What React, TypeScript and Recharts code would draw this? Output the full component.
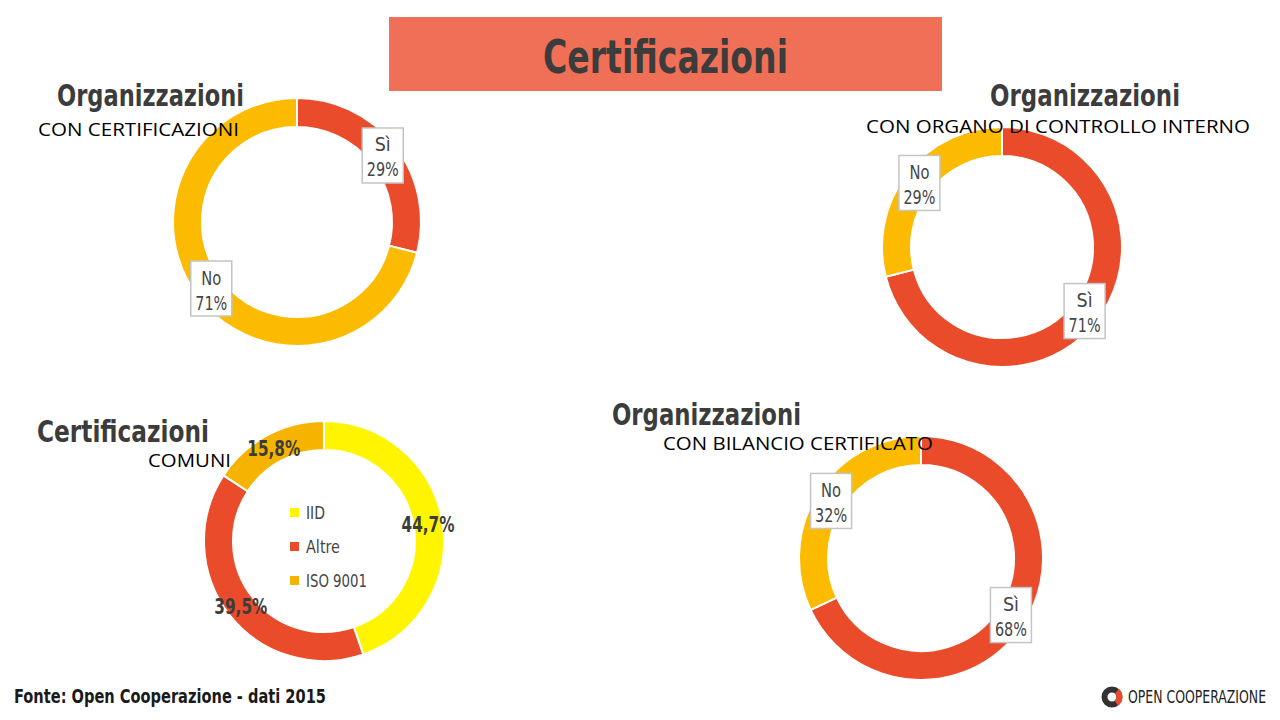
import React, { useLayoutEffect, useRef, useState } from 'react';
import { PieChart, Pie, Cell } from 'recharts';

const RED = '#E94B2B';
const GOLD = '#FDBB00';
const LEMON = '#FFF500';
const AMBER = '#F6B400';
const DARK = '#3C3C3C';
const LABEL_GREY = '#454545';

// Organizzazioni con certificazioni
const orgCertNames = ['Sì', 'No'];
const orgCertValues = [29, 71];
const orgCertColors = [RED, GOLD];

// Organizzazioni con organo di controllo interno
const controlloNames = ['Sì', 'No'];
const controlloValues = [71, 29];
const controlloColors = [RED, GOLD];

// Certificazioni comuni
const comuniNames = ['IID', 'Altre', 'ISO 9001'];
const comuniValues = [44.7, 39.5, 15.8];
const comuniColors = [LEMON, RED, AMBER];

// Organizzazioni con bilancio certificato
const bilancioNames = ['Sì', 'No'];
const bilancioValues = [68, 32];
const bilancioColors = [RED, GOLD];

const build = (names: string[], values: number[]) =>
  names.map((n, i) => ({ name: n, value: values[i] }));

const orgCertData = build(orgCertNames, orgCertValues);
const controlloData = build(controlloNames, controlloValues);
const comuniData = build(comuniNames, comuniValues);
const bilancioData = build(bilancioNames, bilancioValues);

const RAD = Math.PI / 180;
const COND = '"Liberation Sans Narrow", "DejaVu Sans Condensed", Roboto, sans-serif';
const SANS = '"Open Sans", "Noto Sans", sans-serif';

const nameWidth: Record<string, number> = { 'Sì': 16, 'No': 20 };

const boxLabel = (props: any) => {
  const { cx, cy, midAngle, innerRadius, outerRadius, name, value } = props;
  const r = (innerRadius + outerRadius) / 2 - 1;
  const x = cx + r * Math.cos(-midAngle * RAD);
  const y = cy + r * Math.sin(-midAngle * RAD);
  return (
    <g>
      <rect x={x - 20.5} y={y - 27.5} width={41} height={55} fill="#fff" stroke="#C4C4C4" strokeWidth={1.5} />
      <text x={x} y={y - 4} textAnchor="middle" fontFamily={COND} fontSize={19} fill={LABEL_GREY}
        textLength={nameWidth[name] || 18} lengthAdjust="spacingAndGlyphs">{name}</text>
      <text x={x} y={y + 21} textAnchor="middle" fontFamily={COND} fontSize={19} fill={LABEL_GREY}
        textLength={32} lengthAdjust="spacingAndGlyphs">{`${value}%`}</text>
    </g>
  );
};

const pctLabel = (props: any) => {
  const { cx, cy, midAngle, innerRadius, outerRadius, value } = props;
  const r = (innerRadius + outerRadius) / 2;
  const x = cx + r * Math.cos(-midAngle * RAD);
  const y = cy + r * Math.sin(-midAngle * RAD);
  return (
    <text x={x} y={y + 8} textAnchor="middle" fontFamily={COND} fontWeight={700} fontSize={21} fill={DARK}
      textLength={53} lengthAdjust="spacingAndGlyphs">{`${Number(value).toFixed(1).replace('.', ',')}%`}</text>
  );
};

type TProps = { x: number; y: number; w: number; size: number; bold?: boolean; fill?: string; family?: string; children: React.ReactNode };
const T = ({ x, y, w, size, bold, fill, family, children }: TProps) => (
  <text x={x} y={y} fontSize={size} fontWeight={bold ? 700 : 400} fill={fill || '#000'}
    fontFamily={family || COND} textLength={w} lengthAdjust="spacingAndGlyphs">{children}</text>
);

// Text squeezed to an exact width by measuring its natural length
const ScaledText = ({ x, y, w, size, bold, fill, family, children }: TProps) => {
  const ref = useRef<SVGTextElement>(null);
  const [s, setS] = useState(0.8);
  useLayoutEffect(() => {
    if (ref.current) {
      const n = ref.current.getComputedTextLength();
      if (n > 0) setS(w / n);
    }
  }, [w, children]);
  return (
    <text ref={ref} x={0} y={0} transform={`translate(${x},${y}) scale(${s},1)`} fontSize={size}
      fontWeight={bold ? 700 : 400} fill={fill || '#000'} fontFamily={family || COND}>{children}</text>
  );
};

export default function App() {
  const lc = { x: 1112, y: 697, r: 7.5 };
  const a1 = -50 * RAD;
  const a2 = 55 * RAD;
  return (
    <div style={{ position: 'absolute', left: 0, top: 0, width: 1280, height: 720, background: '#fff', overflow: 'hidden' }}>
      <svg width={1280} height={720} style={{ position: 'absolute', left: 0, top: 0 }}>
        <rect x={389} y={17} width={553} height={74} fill="#F07057" />
        <T x={543} y={73} w={245} size={47} bold fill={DARK}>Certificazioni</T>
      </svg>
      <div style={{ position: 'absolute', left: 0, top: 0 }}>
        <PieChart width={1280} height={720} margin={{ top: 0, right: 0, bottom: 0, left: 0 }}>
          <Pie data={orgCertData} dataKey="value" nameKey="name" cx={297} cy={222} innerRadius={95} outerRadius={124}
            startAngle={90} endAngle={-270} isAnimationActive={false} label={boxLabel} labelLine={false} stroke="#fff" strokeWidth={2}>
            {orgCertData.map((d, i) => <Cell key={d.name} fill={orgCertColors[i]} />)}
          </Pie>
          <Pie data={controlloData} dataKey="value" nameKey="name" cx={1002} cy={247} innerRadius={91} outerRadius={120}
            startAngle={90} endAngle={-270} isAnimationActive={false} label={boxLabel} labelLine={false} stroke="#fff" strokeWidth={2}>
            {controlloData.map((d, i) => <Cell key={d.name} fill={controlloColors[i]} />)}
          </Pie>
          <Pie data={comuniData} dataKey="value" nameKey="name" cx={324} cy={541} innerRadius={91} outerRadius={120}
            startAngle={90} endAngle={-270} isAnimationActive={false} label={pctLabel} labelLine={false} stroke="#fff" strokeWidth={2}>
            {comuniData.map((d, i) => <Cell key={d.name} fill={comuniColors[i]} />)}
          </Pie>
          <Pie data={bilancioData} dataKey="value" nameKey="name" cx={921} cy={558} innerRadius={93} outerRadius={122}
            startAngle={90} endAngle={-270} isAnimationActive={false} label={boxLabel} labelLine={false} stroke="#fff" strokeWidth={2}>
            {bilancioData.map((d, i) => <Cell key={d.name} fill={bilancioColors[i]} />)}
          </Pie>
        </PieChart>
      </div>
      <svg width={1280} height={720} style={{ position: 'absolute', left: 0, top: 0, pointerEvents: 'none' }}>
        {/* top-left */}
        <T x={57} y={106} w={187} size={30} bold fill={DARK}>Organizzazioni</T>
        <T x={38} y={136} w={201} size={19} family={SANS}>CON CERTIFICAZIONI</T>
        {/* top-right */}
        <T x={990} y={106} w={190} size={30} bold fill={DARK}>Organizzazioni</T>
        <T x={866} y={133} w={384} size={19} family={SANS}>CON ORGANO DI CONTROLLO INTERNO</T>
        {/* bottom-left */}
        <T x={37} y={442} w={172} size={30} bold fill={DARK}>Certificazioni</T>
        <T x={148} y={467} w={83} size={19} family={SANS}>COMUNI</T>
        {comuniNames.map((n, i) => (
          <g key={n}>
            <rect x={290} y={508 + i * 34} width={9} height={9} fill={comuniColors[i]} />
            <T x={306} y={519 + i * 34} w={[19, 34, 61][i]} size={17} fill={LABEL_GREY}>{n}</T>
          </g>
        ))}
        {/* bottom-right */}
        <T x={612} y={425} w={189} size={30} bold fill={DARK}>Organizzazioni</T>
        <T x={663} y={450} w={270} size={19} family={SANS}>CON BILANCIO CERTIFICATO</T>
        {/* footer */}
        <T x={14} y={703} w={312} size={20} bold fill="#1A1A1A">Fonte: Open Cooperazione - dati 2015</T>
        <circle cx={lc.x} cy={lc.y} r={lc.r} fill="none" stroke="#333" strokeWidth={6} />
        <path
          d={`M ${lc.x + lc.r * Math.cos(a1)} ${lc.y + lc.r * Math.sin(a1)} A ${lc.r} ${lc.r} 0 0 1 ${lc.x + lc.r * Math.cos(a2)} ${lc.y + lc.r * Math.sin(a2)}`}
          fill="none" stroke={RED} strokeWidth={6} />
        <ScaledText x={1128} y={703} w={138} size={17} fill="#222">OPEN COOPERAZIONE</ScaledText>
      </svg>
    </div>
  );
}
